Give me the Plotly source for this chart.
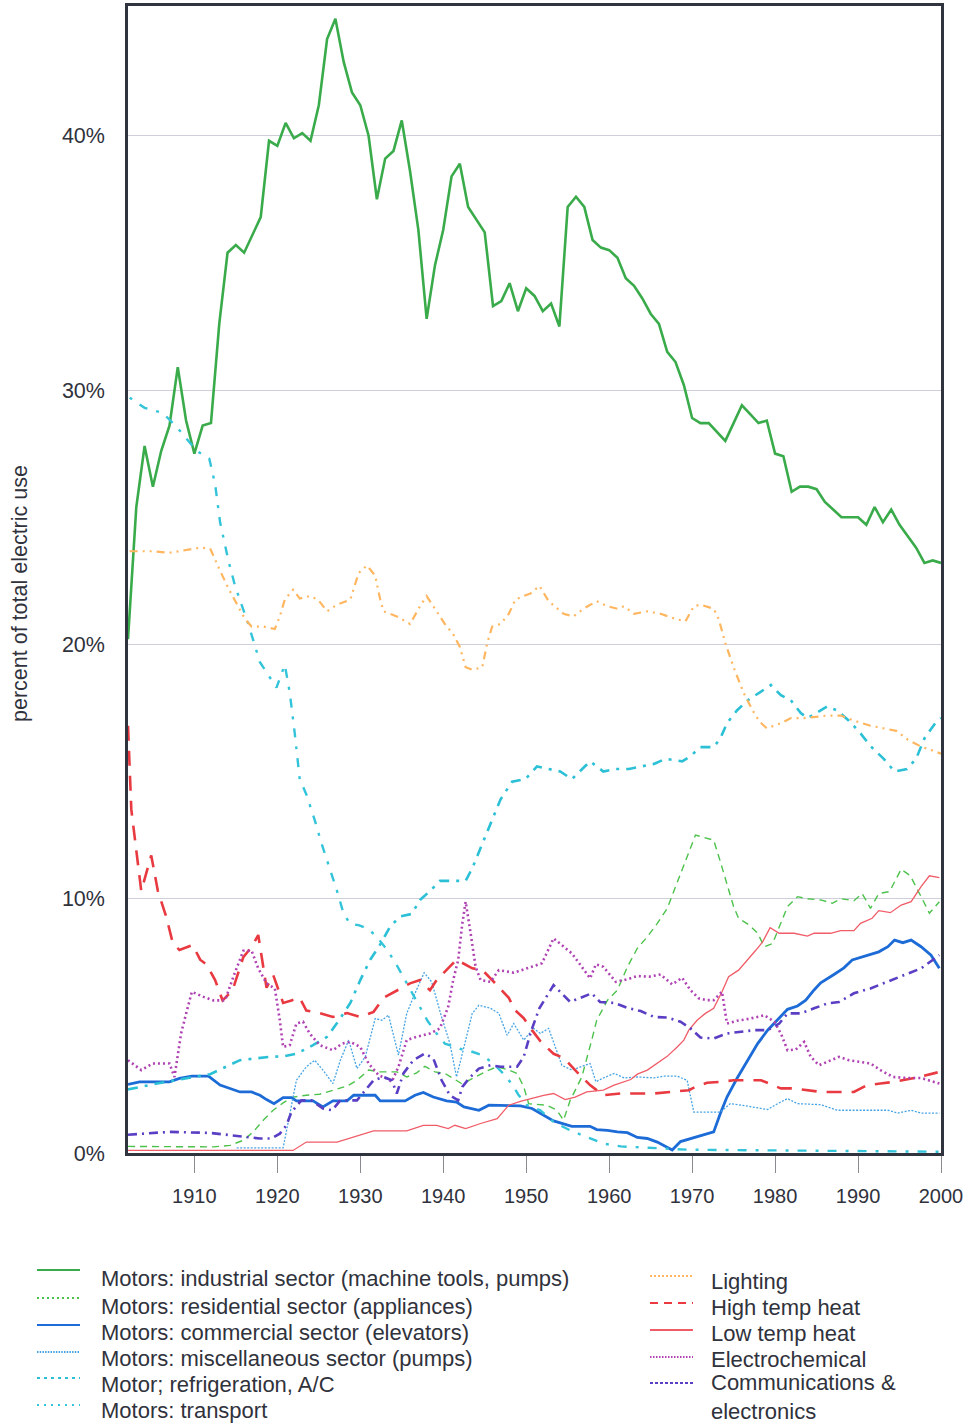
import plotly.graph_objects as go

# ---------------- data (year, percent of total electric use) ----------------
YEARS_IND = list(range(1902, 2001))
MOTORS_INDUSTRIAL = [20.2, 25.4, 27.8, 26.2, 27.6, 28.6, 30.9, 28.8, 27.5, 28.6,
                     28.7, 32.6, 35.4, 35.7, 35.4, 36.1, 36.8, 39.8, 39.6, 40.5,
                     39.9, 40.1, 39.8, 41.2, 43.8, 44.6, 42.9, 41.7, 41.2, 40.0,
                     37.5, 39.1, 39.4, 40.6, 38.6, 36.3, 32.8, 34.9, 36.3, 38.4,
                     38.9, 37.2, 36.7, 36.2, 33.3, 33.5, 34.2, 33.1, 34.0, 33.7,
                     33.1, 33.4, 32.5, 37.2, 37.6, 37.2, 35.9, 35.6, 35.5, 35.2,
                     34.4, 34.1, 33.6, 33.0, 32.6, 31.5, 31.1, 30.2, 28.9, 28.7,
                     28.7, 28.35, 28.0, 28.7, 29.4, 29.05, 28.7, 28.8, 27.5, 27.4,
                     26.0, 26.2, 26.2, 26.1, 25.6, 25.3, 25.0, 25.0, 25.0, 24.7,
                     25.4, 24.8, 25.3, 24.7, 24.25, 23.8, 23.2, 23.3, 23.2]

MOTORS_RESIDENTIAL = [(1902, 0.26), (1912.3, 0.24), (1914.3, 0.3), (1915.9, 0.5), (1917.1, 0.83),
                      (1918.3, 1.29), (1919.5, 1.68), (1920.7, 1.97), (1921.9, 2.2), (1923.5, 2.27),
                      (1925.1, 2.31), (1926.7, 2.47), (1928.4, 2.63), (1929.6, 2.86), (1931.0, 3.26),
                      (1932.4, 3.19), (1934.4, 3.19), (1935.6, 2.99), (1936.8, 3.15), (1937.8, 3.41),
                      (1939.0, 3.19), (1940.2, 3.13), (1941.2, 2.93), (1942.2, 2.73), (1943.1, 2.86),
                      (1944.3, 3.06), (1945.5, 3.26), (1946.5, 3.39), (1947.9, 3.26), (1948.9, 3.13),
                      (1949.7, 2.6), (1950.3, 1.94), (1952.5, 1.88), (1953.7, 1.68), (1954.5, 1.29),
                      (1955.3, 2.07), (1956.7, 2.99), (1957.9, 4.44), (1958.5, 5.22), (1959.8, 6.01),
                      (1961.0, 6.41), (1962.2, 7.32), (1963.4, 8.05), (1964.6, 8.5), (1965.8, 9.03),
                      (1967.0, 9.62), (1968.2, 10.6), (1969.4, 11.65), (1970.4, 12.5), (1971.6, 12.38),
                      (1972.6, 12.3), (1973.4, 11.46), (1974.4, 10.34), (1975.0, 9.69), (1975.6, 9.23),
                      (1976.9, 8.96), (1977.9, 8.64), (1978.7, 8.11), (1979.7, 8.24), (1980.5, 8.9),
                      (1981.5, 9.69), (1982.7, 10.08), (1983.9, 10.0), (1985.5, 9.95), (1986.9, 9.82),
                      (1987.9, 10.0), (1989.5, 9.92), (1990.5, 10.2), (1991.5, 9.62), (1992.5, 10.2),
                      (1993.8, 10.28), (1995.2, 11.16), (1996.3, 10.9), (1997.6, 10.08), (1998.6, 9.43),
                      (1999.8, 9.88)]

MOTORS_COMMERCIAL = [(1902, 2.7), (1903.4, 2.8), (1907.0, 2.8), (1908.2, 2.93), (1909.7, 3.02),
                     (1911.7, 3.02), (1913.1, 2.67), (1914.3, 2.54), (1915.5, 2.4), (1916.9, 2.4),
                     (1917.9, 2.27), (1918.7, 2.1), (1919.6, 1.94), (1920.7, 2.18), (1921.7, 2.18),
                     (1922.3, 2.05), (1924.3, 2.05), (1925.5, 1.81), (1926.7, 2.05), (1928.4, 2.05),
                     (1929.2, 2.27), (1931.8, 2.27), (1932.4, 2.05), (1935.4, 2.05), (1936.6, 2.27),
                     (1937.6, 2.38), (1938.8, 2.2), (1940.4, 2.05), (1941.6, 2.0), (1942.5, 1.81),
                     (1944.3, 1.68), (1945.5, 1.88), (1949.3, 1.85), (1950.7, 1.75), (1951.7, 1.55),
                     (1953.3, 1.26), (1955.5, 1.05), (1957.7, 1.05), (1958.5, 0.92), (1959.8, 0.89),
                     (1961.0, 0.83), (1962.2, 0.8), (1963.4, 0.61), (1964.6, 0.57), (1965.8, 0.43),
                     (1967.6, 0.12), (1968.6, 0.45), (1970.2, 0.61), (1971.4, 0.72), (1972.6, 0.83),
                     (1973.4, 1.55), (1974.2, 2.2), (1975.4, 2.93), (1976.7, 3.65), (1977.9, 4.3),
                     (1979.1, 4.83), (1980.3, 5.22), (1981.5, 5.65), (1982.7, 5.78), (1983.7, 6.01),
                     (1984.7, 6.41), (1985.5, 6.69), (1987.1, 7.02), (1988.3, 7.28), (1989.3, 7.59),
                     (1990.7, 7.74), (1992.5, 7.91), (1993.6, 8.11), (1994.4, 8.37), (1995.4, 8.27),
                     (1996.4, 8.37), (1997.6, 8.11), (1998.8, 7.78), (1999.8, 7.26)]

MOTORS_MISC = [(1915.1, 0.2), (1920.7, 0.2), (1922.3, 2.86), (1923.5, 3.39), (1924.5, 3.65),
               (1925.5, 3.26), (1926.7, 2.73), (1927.6, 3.65), (1928.6, 4.44), (1929.6, 3.32),
               (1930.6, 3.78), (1931.8, 5.29), (1932.6, 5.22), (1933.4, 5.42), (1934.6, 3.85),
               (1935.6, 5.49), (1936.6, 6.28), (1937.7, 7.09), (1938.6, 6.73), (1939.8, 5.35),
               (1940.8, 4.31), (1941.6, 2.99), (1942.5, 4.17), (1943.5, 5.49), (1944.3, 5.81),
               (1945.7, 5.69), (1946.7, 5.49), (1947.7, 4.63), (1948.5, 5.09), (1949.7, 4.44),
               (1950.9, 4.9), (1951.7, 4.7), (1952.7, 4.9), (1954.3, 3.45), (1955.5, 3.26),
               (1956.7, 3.39), (1957.7, 3.52), (1958.4, 2.8), (1959.3, 2.95), (1960.6, 3.13),
               (1961.8, 2.95), (1963.4, 2.99), (1965.4, 2.95), (1966.6, 3.02), (1968.2, 3.02),
               (1969.4, 2.86), (1970.2, 1.61), (1973.4, 1.61), (1974.6, 1.94), (1976.7, 1.84),
               (1979.1, 1.71), (1980.3, 1.94), (1981.5, 2.14), (1982.7, 1.94), (1985.5, 1.9),
               (1987.5, 1.68), (1993.6, 1.68), (1994.8, 1.57), (1996.4, 1.68), (1997.6, 1.57),
               (1999.8, 1.57)]

MOTORS_REFRIG = [(1902, 2.5), (1905.0, 2.7), (1911.9, 3.1), (1915.5, 3.65), (1919.1, 3.78),
                 (1920.7, 3.8), (1922.3, 3.9), (1924.3, 4.24), (1926.0, 4.57), (1927.4, 5.2),
                 (1928.8, 5.9), (1930.0, 6.8), (1931.2, 7.6), (1932.4, 8.2), (1933.6, 8.9),
                 (1934.8, 9.3), (1936.2, 9.4), (1937.2, 9.95), (1938.4, 10.3), (1939.6, 10.7),
                 (1941.2, 10.7), (1942.7, 10.7), (1943.5, 11.2), (1944.5, 12.0), (1945.7, 13.0),
                 (1946.9, 13.9), (1948.3, 14.6), (1949.9, 14.7), (1951.3, 15.2), (1952.7, 15.1),
                 (1954.1, 15.0), (1955.5, 14.7), (1956.7, 15.1), (1957.7, 15.4), (1959.3, 15.0),
                 (1960.8, 15.1), (1962.4, 15.1), (1965.4, 15.3), (1966.8, 15.5), (1968.8, 15.4),
                 (1969.8, 15.6), (1971.0, 15.96), (1972.6, 15.96), (1973.4, 16.3), (1974.2, 16.9),
                 (1975.4, 17.4), (1976.7, 17.8), (1978.3, 18.15), (1979.5, 18.4), (1980.7, 18.0),
                 (1981.9, 17.8), (1983.1, 17.3), (1983.9, 17.1), (1986.3, 17.56), (1987.5, 17.4),
                 (1988.9, 17.0), (1990.3, 16.5), (1991.5, 16.0), (1993.1, 15.5), (1994.4, 15.0),
                 (1995.9, 15.1), (1997.0, 15.5), (1998.0, 16.3), (1999.3, 16.9), (2000, 17.1)]

MOTORS_TRANSPORT = [(1902.2, 29.7), (1904.0, 29.3), (1906.2, 29.1), (1908.0, 28.5), (1910.3, 27.6),
                    (1911.8, 27.3), (1912.5, 26.3), (1913.1, 24.8), (1914.1, 23.3), (1914.9, 22.3),
                    (1916.5, 20.8), (1917.9, 19.3), (1918.9, 18.8), (1919.9, 18.3), (1920.9, 19.2),
                    (1921.5, 18.1), (1922.1, 16.5), (1922.7, 14.7), (1923.5, 14.1), (1924.5, 13.1),
                    (1925.3, 12.2), (1926.3, 11.2), (1927.2, 10.3), (1928.0, 9.4), (1928.8, 9.0),
                    (1929.8, 8.96), (1931.0, 8.8), (1932.0, 8.5), (1933.2, 8.0), (1934.2, 7.5),
                    (1935.2, 6.9), (1936.2, 6.3), (1937.2, 5.7), (1938.1, 5.2), (1939.2, 4.7),
                    (1940.2, 4.3), (1941.2, 4.2), (1942.3, 4.07), (1943.5, 3.98), (1944.7, 3.85),
                    (1946.1, 3.5), (1947.3, 3.1), (1948.3, 2.7), (1949.1, 2.27), (1950.1, 1.88),
                    (1951.7, 1.68), (1953.3, 1.22), (1955.3, 0.89), (1957.3, 0.63), (1959.3, 0.37),
                    (1961.4, 0.26), (1965.4, 0.2), (1969.4, 0.13), (1980.7, 0.1), (2000, 0.05)]

LIGHTING = [(1902.2, 23.66), (1905.0, 23.66), (1907.0, 23.6), (1909.1, 23.7), (1910.7, 23.8),
            (1911.9, 23.77), (1912.5, 23.3), (1913.1, 22.9), (1914.1, 22.2), (1915.1, 21.6),
            (1916.1, 21.0), (1916.9, 20.7), (1918.3, 20.7), (1919.7, 20.6), (1920.3, 21.1),
            (1920.9, 21.76), (1921.9, 22.15), (1922.7, 21.8), (1923.9, 21.9), (1924.9, 21.76),
            (1926.0, 21.3), (1927.2, 21.56), (1928.8, 21.76), (1929.8, 22.8), (1930.8, 23.1),
            (1931.8, 22.7), (1932.4, 21.76), (1932.8, 21.3), (1934.4, 21.1), (1936.0, 20.8),
            (1937.2, 21.5), (1938.0, 21.9), (1939.0, 21.4), (1940.2, 20.8), (1941.2, 20.4),
            (1942.0, 19.9), (1942.7, 19.1), (1943.5, 19.0), (1944.7, 19.1), (1945.3, 20.05),
            (1945.9, 20.7), (1946.9, 20.8), (1947.9, 21.2), (1948.7, 21.76), (1949.7, 21.9),
            (1950.5, 22.0), (1951.6, 22.3), (1952.7, 21.7), (1954.5, 21.2), (1955.7, 21.1),
            (1956.9, 21.4), (1958.5, 21.7), (1959.8, 21.5), (1961.0, 21.4), (1961.8, 21.5),
            (1963.0, 21.2), (1964.6, 21.3), (1966.2, 21.2), (1968.0, 21.0), (1969.2, 20.9),
            (1970.2, 21.5), (1971.0, 21.56), (1972.6, 21.4), (1973.2, 21.0), (1974.0, 20.05),
            (1975.0, 19.1), (1976.2, 18.1), (1977.3, 17.4), (1978.1, 16.97), (1979.0, 16.7),
            (1980.7, 16.9), (1981.9, 17.1), (1983.5, 17.1), (1986.3, 17.2), (1987.9, 17.2),
            (1989.5, 17.0), (1991.5, 16.8), (1993.1, 16.7), (1994.6, 16.6), (1996.0, 16.25),
            (1997.6, 15.98), (1999.2, 15.8), (2000, 15.7)]

HIGH_TEMP_HEAT = [(1902.0, 16.8), (1902.4, 13.5), (1903.6, 10.3), (1904.8, 11.7), (1905.6, 10.3),
                  (1906.6, 9.3), (1907.4, 8.26), (1908.2, 7.98), (1909.8, 8.18), (1910.7, 7.6),
                  (1911.5, 7.4), (1912.5, 6.8), (1913.4, 6.0), (1914.6, 6.4), (1915.9, 7.7),
                  (1916.9, 8.1), (1917.7, 8.57), (1918.7, 6.5), (1919.5, 7.0), (1920.7, 5.9),
                  (1921.7, 6.0), (1922.7, 6.1), (1923.5, 5.6), (1925.1, 5.5), (1926.7, 5.35),
                  (1928.4, 5.5), (1930.0, 5.35), (1931.6, 5.55), (1932.8, 6.1), (1934.4, 6.4),
                  (1936.0, 6.67), (1937.2, 6.8), (1938.4, 6.4), (1939.2, 6.8), (1940.6, 7.26),
                  (1941.6, 7.6), (1943.5, 7.26), (1944.7, 7.2), (1945.9, 6.8), (1946.9, 6.47),
                  (1947.9, 6.1), (1948.7, 5.6), (1949.7, 5.3), (1950.7, 4.83), (1951.7, 4.4),
                  (1953.3, 3.9), (1954.5, 3.74), (1956.1, 3.19), (1957.7, 2.67), (1959.3, 2.27),
                  (1961.4, 2.34), (1965.4, 2.34), (1967.4, 2.4), (1969.6, 2.47), (1970.6, 2.63),
                  (1971.8, 2.76), (1973.4, 2.8), (1975.0, 2.86), (1978.3, 2.86), (1979.1, 2.76),
                  (1980.7, 2.54), (1982.3, 2.54), (1983.9, 2.47), (1985.5, 2.4), (1989.5, 2.4),
                  (1991.1, 2.67), (1992.7, 2.73), (1994.4, 2.8), (1996.8, 2.95), (1999.6, 3.17)]

LOW_TEMP_HEAT = [(1902, 0.1), (1921.9, 0.1), (1923.5, 0.43), (1927.2, 0.43), (1931.6, 0.87),
                 (1935.6, 0.87), (1937.6, 1.09), (1939.2, 1.09), (1940.6, 0.96), (1941.4, 1.09),
                 (1942.7, 0.96), (1944.5, 1.16), (1946.5, 1.35), (1947.9, 1.88), (1949.3, 2.03),
                 (1950.5, 2.14), (1952.1, 2.27), (1953.3, 2.34), (1954.7, 2.1), (1955.9, 2.2),
                 (1957.3, 2.4), (1959.3, 2.47), (1960.6, 2.67), (1962.6, 2.89), (1963.4, 3.1),
                 (1964.6, 3.26), (1965.8, 3.52), (1967.0, 3.8), (1968.2, 4.17), (1969.0, 4.44),
                 (1969.6, 4.83), (1970.6, 5.22), (1971.6, 5.49), (1972.6, 5.69), (1973.6, 6.34),
                 (1974.4, 6.93), (1975.6, 7.19), (1976.7, 7.59), (1977.7, 7.98), (1978.5, 8.3),
                 (1979.4, 8.86), (1980.5, 8.64), (1982.3, 8.64), (1983.9, 8.53), (1984.7, 8.64),
                 (1986.7, 8.64), (1987.9, 8.74), (1989.5, 8.74), (1990.3, 9.03), (1991.7, 9.23),
                 (1992.5, 9.53), (1993.9, 9.45), (1995.2, 9.75), (1996.4, 9.88), (1997.6, 10.47),
                 (1998.6, 10.9), (1999.8, 10.83)]

ELECTROCHEMICAL = [(1902, 3.65), (1903.6, 3.26), (1905.0, 3.52), (1907.0, 3.52), (1907.6, 2.99),
                   (1908.4, 4.7), (1909.1, 5.6), (1909.7, 6.34), (1911.1, 6.14), (1912.3, 6.0),
                   (1913.7, 6.0), (1914.7, 6.93), (1915.9, 7.95), (1916.9, 7.95), (1917.7, 7.26),
                   (1918.7, 6.67), (1919.7, 6.47), (1920.3, 5.22), (1920.7, 4.17), (1921.5, 4.24),
                   (1922.3, 5.09), (1923.1, 5.16), (1923.9, 4.7), (1925.1, 4.24), (1926.7, 4.04),
                   (1927.8, 4.3), (1928.8, 4.37), (1930.0, 4.17), (1931.0, 3.52), (1932.2, 3.06),
                   (1933.2, 2.93), (1933.8, 2.8), (1934.6, 3.39), (1935.6, 4.44), (1936.8, 4.57),
                   (1938.4, 4.7), (1939.6, 4.9), (1940.6, 5.75), (1941.2, 6.8), (1941.8, 7.59),
                   (1942.3, 9.03), (1942.7, 9.88), (1943.3, 8.64), (1943.9, 7.32), (1944.5, 6.8),
                   (1945.7, 6.73), (1946.7, 7.19), (1948.5, 7.09), (1950.1, 7.26), (1951.9, 7.46),
                   (1953.3, 8.44), (1955.5, 7.85), (1956.7, 7.32), (1957.7, 6.87), (1958.4, 7.42),
                   (1959.3, 7.32), (1960.8, 6.73), (1962.2, 6.83), (1963.4, 6.96), (1964.8, 6.93),
                   (1966.2, 7.02), (1967.6, 6.63), (1968.8, 6.89), (1969.8, 6.4), (1970.8, 6.08),
                   (1971.8, 6.01), (1972.6, 6.01), (1973.6, 6.34), (1974.2, 5.09), (1975.4, 5.2),
                   (1977.1, 5.29), (1978.7, 5.42), (1979.9, 5.16), (1980.7, 4.7), (1981.5, 4.04),
                   (1982.5, 4.07), (1983.5, 4.37), (1984.3, 3.78), (1985.3, 3.45), (1987.7, 3.78),
                   (1988.9, 3.65), (1991.5, 3.52), (1992.7, 3.26), (1994.2, 2.99), (1995.8, 2.95),
                   (1997.6, 2.95), (1999.8, 2.73)]

COMMUNICATIONS = [(1902, 0.72), (1907.0, 0.83), (1911.9, 0.79), (1914.7, 0.67), (1916.3, 0.63),
                  (1917.9, 0.57), (1919.3, 0.57), (1920.3, 0.76), (1921.1, 1.09), (1921.7, 1.61),
                  (1922.9, 2.07), (1924.1, 2.07), (1925.5, 1.75), (1926.6, 1.68), (1927.6, 2.07),
                  (1929.6, 2.07), (1930.4, 2.4), (1931.6, 2.86), (1932.8, 2.99), (1933.8, 2.86),
                  (1934.4, 2.34), (1935.2, 3.13), (1936.4, 3.65), (1937.8, 3.91), (1938.8, 3.72),
                  (1939.8, 2.86), (1940.8, 2.27), (1941.8, 2.07), (1942.3, 2.6), (1943.1, 2.93),
                  (1944.3, 3.32), (1945.7, 3.45), (1946.9, 3.39), (1948.9, 3.39), (1949.7, 3.78),
                  (1950.6, 4.8), (1951.6, 5.7), (1953.3, 6.6), (1955.3, 5.94), (1957.9, 6.28),
                  (1958.9, 5.94), (1960.6, 5.9), (1962.2, 5.71), (1963.8, 5.58), (1965.4, 5.35),
                  (1967.0, 5.33), (1968.6, 5.16), (1969.8, 4.9), (1971.0, 4.54), (1972.6, 4.5),
                  (1974.2, 4.7), (1975.8, 4.76), (1977.5, 4.83), (1979.1, 4.83), (1980.5, 5.09),
                  (1981.5, 5.49), (1983.1, 5.49), (1984.7, 5.69), (1986.3, 5.88), (1987.7, 5.94),
                  (1989.5, 6.28), (1991.5, 6.47), (1993.6, 6.73), (1995.6, 7.0), (1997.6, 7.26),
                  (1999.8, 7.78)]

Y_TICKS = [0, 10, 20, 30, 40]
Y_TICK_LABELS = ["0%", "10%", "20%", "30%", "40%"]
X_TICKS = [1910, 1920, 1930, 1940, 1950, 1960, 1970, 1980, 1990, 2000]

FONT = "Liberation Sans, Arial, Helvetica, sans-serif"
TXT = "#30323c"

# figure geometry (pixels)
W, H = 973, 1427
L, R, T, B = 128, 32, 6, 274
PW, PH = W - L - R, H - T - B


def px2paper(px, py):
    return (px - L) / PW, (H - B - py) / PH


def split(pairs):
    return [p[0] for p in pairs], [p[1] for p in pairs]


fig = go.Figure()

# name, x, y, color, width, dash, legend column, legend sample dash
series = [
    ("Motors: industrial sector (machine tools, pumps)", YEARS_IND, MOTORS_INDUSTRIAL,
     "#3aab4a", 2.6, "solid", 0, "solid"),
    ("Motors: residential sector (appliances)", *split(MOTORS_RESIDENTIAL),
     "#4cc24c", 1.4, "7px,5px", 0, "2px,3px"),
    ("Motors: commercial sector (elevators)", *split(MOTORS_COMMERCIAL),
     "#1c6bd6", 2.8, "solid", 0, "solid"),
    ("Motors: miscellaneous sector (pumps)", *split(MOTORS_MISC),
     "#47a4e4", 1.3, "2px,1.5px", 0, "1.5px,1.2px"),
    ("Motor; refrigeration, A/C", *split(MOTORS_REFRIG),
     "#2cc0d6", 2.6, "10px,7px,3px,7px", 0, "3px,4px"),
    ("Motors: transport", *split(MOTORS_TRANSPORT),
     "#34c4da", 2.4, "3px,9px,9px,9px", 0, "2px,5px"),
    ("Lighting", *split(LIGHTING),
     "#ffb660", 2.2, "8px,5px,2px,5px,2px,5px", 1, "2px,2px"),
    ("High temp heat", *split(HIGH_TEMP_HEAT),
     "#e83a40", 2.6, "15px,10px", 1, "8px,6px"),
    ("Low temp heat", *split(LOW_TEMP_HEAT),
     "#f05c68", 1.3, "solid", 1, "solid"),
    ("Electrochemical", *split(ELECTROCHEMICAL),
     "#b042b4", 2.6, "2px,3px", 1, "1.5px,1.5px"),
    ("Communications &<br>electronics", *split(COMMUNICATIONS),
     "#5a3ec4", 2.6, "9px,5px,2px,5px", 1, "3px,2px"),
]

for name, xs, ys, color, width, dash, _, _ in series:
    fig.add_trace(go.Scatter(
        x=xs, y=ys, mode="lines", name=name.replace("<br>", " "), showlegend=False,
        line=dict(color=color, width=width, dash=dash),
        hoverinfo="skip",
    ))

# ---- legend (two columns) drawn as paper-positioned samples + text ----
LEG_COLS = [
    dict(x0=37, x1=80, tx=99, sample_y=[1270, 1298, 1325, 1352, 1378, 1405],
         text_y=[1278, 1306, 1332, 1358, 1384, 1410]),
    dict(x0=650, x1=693, tx=709, sample_y=[1276, 1303, 1330, 1357, 1383],
         text_y=[1281, 1307, 1333, 1359, 1397]),
]
shapes, annos = [], []
counters = [0, 0]
for name, xs, ys, color, width, dash, col, ldash in series:
    c = LEG_COLS[col]
    i = counters[col]
    counters[col] += 1
    sx0, sy = px2paper(c["x0"], c["sample_y"][i])
    sx1, _ = px2paper(c["x1"], c["sample_y"][i])
    shapes.append(dict(type="line", xref="paper", yref="paper", x0=sx0, x1=sx1, y0=sy, y1=sy,
                       line=dict(color=color, width=2, dash=ldash)))
    tx, ty = px2paper(c["tx"], c["text_y"][i])
    annos.append(dict(text=name, xref="paper", yref="paper", x=tx, y=ty,
                      xanchor="left", yanchor="middle", align="left", showarrow=False,
                      font=dict(size=22, color=TXT, family=FONT)))

ytx, yty = px2paper(20, 594)
annos.append(dict(
    text="percent of total electric use", textangle=-90,
    xref="paper", yref="paper", x=ytx, y=yty,
    xanchor="center", yanchor="middle", showarrow=False,
    font=dict(size=21.5, color=TXT, family=FONT),
))

fig.update_layout(
    width=W, height=H,
    margin=dict(l=L, r=R, t=T, b=B, autoexpand=False),
    paper_bgcolor="white", plot_bgcolor="white",
    font=dict(family=FONT, color=TXT, size=20),
    showlegend=False,
    shapes=shapes,
    annotations=annos,
)

fig.update_xaxes(
    range=[1902, 2000], tickvals=X_TICKS, ticktext=[str(v) for v in X_TICKS],
    showgrid=False, zeroline=False, automargin=False,
    showline=True, linecolor="#30343f", linewidth=2.5, mirror=True,
    ticks="outside", ticklen=17, tickcolor="#8a8a90", tickwidth=1,
    ticklabelstandoff=6, tickfont=dict(size=20, color=TXT),
)
fig.update_yaxes(
    range=[0, 45.1], tickvals=Y_TICKS, ticktext=Y_TICK_LABELS,
    showgrid=True, gridcolor="#cfcfdc", gridwidth=1, zeroline=False, automargin=False,
    showline=True, linecolor="#30343f", linewidth=2.5, mirror=True,
    ticks="", ticklabelstandoff=16, tickfont=dict(size=21.5, color=TXT),
)

# remove the page's default body margin so the figure sits at the window's top-left corner
fig.write_html(
    "out.html",
    config={"displayModeBar": False},
    post_script="document.body.style.margin='0';document.body.style.overflow='hidden';",
)
